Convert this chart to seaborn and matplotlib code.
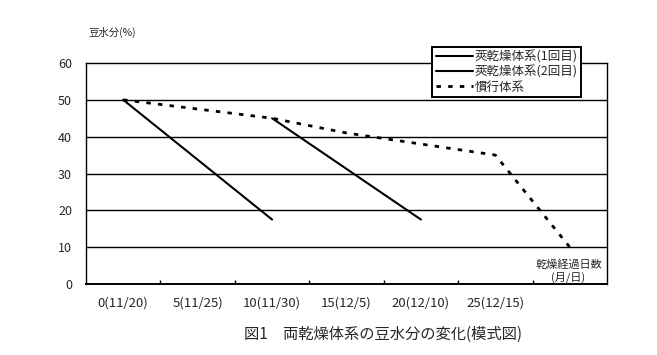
import matplotlib
matplotlib.use("Agg")
import matplotlib.pyplot as plt
import seaborn as sns
import pandas as pd
from matplotlib.ticker import FixedLocator

sns.set_theme(style="white")
plt.rcParams['font.family'] = ['Noto Sans CJK JP', 'DejaVu Sans']

categories = ["0(11/20)", "5(11/25)", "10(11/30)", "15(12/5)", "20(12/10)", "25(12/15)", ""]
pos = list(range(len(categories)))

run1_x = [0, 2]
run1_y = [50, 17.5]
run2_x = [2, 4]
run2_y = [45, 17.5]
conv_x = [0, 1, 2, 3, 4, 5, 6]
conv_y = [50, 47.5, 45, 41, 38, 35, 10]

series_names = ["莢乾燥体系(1回目)", "莢乾燥体系(2回目)", "慣行体系"]

fig = plt.figure(figsize=(6.57, 3.55), dpi=100)
ax = fig.add_axes([86/657, 1-284/355, (607-86)/657, (284-63)/355])

df1 = pd.DataFrame({"x": run1_x, "y": run1_y})
df2 = pd.DataFrame({"x": run2_x, "y": run2_y})
df3 = pd.DataFrame({"x": conv_x, "y": conv_y})
sns.lineplot(data=df1, x="x", y="y", ax=ax, color="black", lw=1.5, label=series_names[0])
sns.lineplot(data=df2, x="x", y="y", ax=ax, color="black", lw=1.5, label=series_names[1])
sns.lineplot(data=df3, x="x", y="y", ax=ax, color="black", lw=2.0,
             linestyle=(0, (1.6, 2.6)), label=series_names[2])

ax.set_xlim(-0.5, 6.5)
ax.set_ylim(0, 60)
ax.set_yticks([0, 10, 20, 30, 40, 50, 60])
ax.set_yticklabels(["0", "10", "20", "30", "40", "50", "60"], fontsize=9)
ax.set_xticks(pos)
ax.set_xticklabels(categories, fontsize=9.5)
ax.tick_params(axis='x', which='major', length=0, pad=9)
ax.tick_params(axis='y', which='major', length=0, pad=10)
ax.xaxis.set_minor_locator(FixedLocator([0.5, 1.5, 2.5, 3.5, 4.5, 5.5]))
ax.tick_params(axis='x', which='minor', direction='in', length=3, width=1, color='black', bottom=True)
ax.set_xlabel("")
ax.set_ylabel("")
for y in [10, 20, 30, 40, 50]:
    ax.axhline(y, color="black", lw=1, zorder=0)
for s in ax.spines.values():
    s.set_color("black")
    s.set_linewidth(1)
    s.set_visible(True)
ax.spines['bottom'].set_linewidth(1.4)

leg = ax.legend(loc="upper left", bbox_to_anchor=((432-86)/(607-86), 1+(63-47)/(284-63)),
                frameon=True, fancybox=False, shadow=False,
                fontsize=9, framealpha=1,
                handlelength=3.0, handletextpad=0.1, borderpad=0.3, labelspacing=0.15,
                borderaxespad=0)
leg.get_frame().set_edgecolor("black")
leg.get_frame().set_linewidth(1.4)

ax.text(0.99, 0.005, "乾燥経過日数\n(月/日)", transform=ax.transAxes, ha="right", va="bottom",
        fontsize=8, linespacing=1.15, multialignment="center")

fig.text(88/657, 1-32/355, "豆水分(%)", fontsize=7.5, ha="left", va="center")
fig.text(383/657, 1-334/355, "図1　両乾燥体系の豆水分の変化(模式図)", fontsize=11, ha="center", va="center")

fig.savefig("out.png", dpi=100)
